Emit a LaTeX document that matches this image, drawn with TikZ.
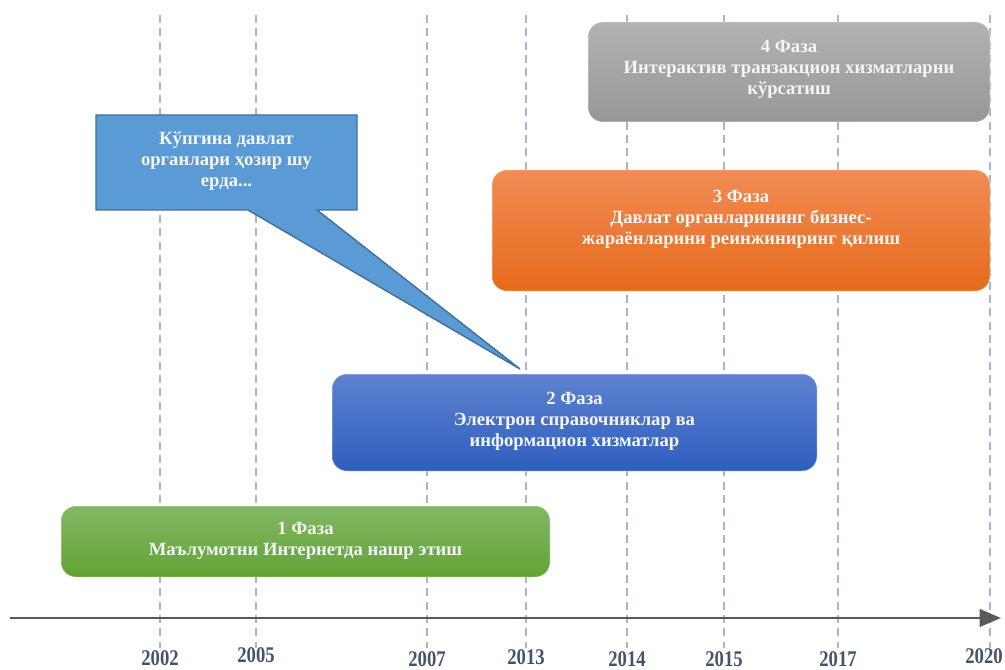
\documentclass[tikz,border=0pt]{standalone}
\usepackage{fontspec}
\usepackage{graphicx}
\setmainfont{Liberation Serif}
\usetikzlibrary{arrows.meta}

\definecolor{gridc}{HTML}{A9B6CA}
\definecolor{axisc}{HTML}{595959}
\definecolor{yearc}{HTML}{44546A}
\definecolor{grayT}{HTML}{B2B2B2}
\definecolor{grayB}{HTML}{979797}
\definecolor{orT}{HTML}{F08C55}
\definecolor{orB}{HTML}{E66A1A}
\definecolor{blT}{HTML}{5E82D0}
\definecolor{blB}{HTML}{2E5EBD}
\definecolor{grT}{HTML}{82B865}
\definecolor{grB}{HTML}{62A334}
\definecolor{callF}{HTML}{5B9BD5}
\definecolor{callD}{HTML}{41719C}

\begin{document}
\begin{tikzpicture}[x=0.75pt,y=-0.75pt,
  yearline/.style={draw=gridc, line width=1.5pt, dash pattern=on 6pt off 4pt},
  yearlabel/.style={text=yearc, font=\fontsize{14}{16}\selectfont\bfseries, inner sep=0pt},
  phasebox/.style={rounded corners=11pt, inner sep=0pt, outer sep=0pt, draw=white, draw opacity=0.35, line width=0.75pt},
  phasetext/.style={text=white!96!black, align=center, font=\fontsize{14}{15.75}\selectfont\bfseries, inner sep=0pt},
  calloutshape/.style={fill=callF, draw=callD, line width=1.1pt, line join=miter},
  axisline/.style={draw=axisc, line width=2.2pt, -{Triangle[length=16pt,width=13pt]}}
]
\useasboundingbox (0,0) rectangle (1005,670);

% year grid lines
\foreach \x in {160,256,427,526,627,724,838,990} {
  \draw[yearline] (\x,15) -- (\x,648);
}
% year labels below the axis
\foreach \x/\yr/\ly in {160/2002/658, 256/2005/655, 427/2007/659, 526/2013/657,
                        627/2014/659, 724/2015/659, 838/2017/659, 984/2020/656} {
  \node[yearlabel] (yr\yr) at (\x,\ly) {\scalebox{1}[1.2]{\yr}};
}

% phase boxes
\node[phasebox, top color=grayT, bottom color=grayB, minimum width=301.5pt, minimum height=75pt] (p4) at (789,72) {};
\node[phasebox, top color=orT, bottom color=orB, minimum width=373.5pt, minimum height=90.75pt] (p3) at (741,230.5) {};
\node[phasebox, top color=blT, bottom color=blB, minimum width=363.75pt, minimum height=72.75pt] (p2) at (574.5,422.5) {};
\node[phasebox, top color=grT, bottom color=grB, minimum width=366.75pt, minimum height=53.25pt] (p1) at (305.5,541.5) {};

\node[phasetext] (t4) at (789,69) {4 Фаза\\Интерактив транзакцион хизматларни\\кўрсатиш};
\node[phasetext] (t3) at (741,219) {3 Фаза\\Давлат органларининг бизнес-\\жараёнларини реинжиниринг қилиш};
\node[phasetext] (t2) at (574.5,421) {2 Фаза\\Электрон справочниклар ва\\информацион хизматлар};
\node[phasetext] (t1) at (305.5,541) {1 Фаза\\Маълумотни Интернетда нашр этиш};

% callout with its pointer
\coordinate (tip) at (520,369);
\path[calloutshape] (96,115) -- (357,115) -- (357,210) -- (317,210) -- (tip) -- (248,210) -- (96,210) -- cycle;
\node[phasetext] (ct) at (226.5,161) {Кўпгина давлат\\органлари ҳозир шу\\ерда...};

% time axis
\coordinate (a0) at (10,618);
\coordinate (a1) at (1001,618);
\draw[axisline] (a0) -- (a1);
\end{tikzpicture}
\end{document}
